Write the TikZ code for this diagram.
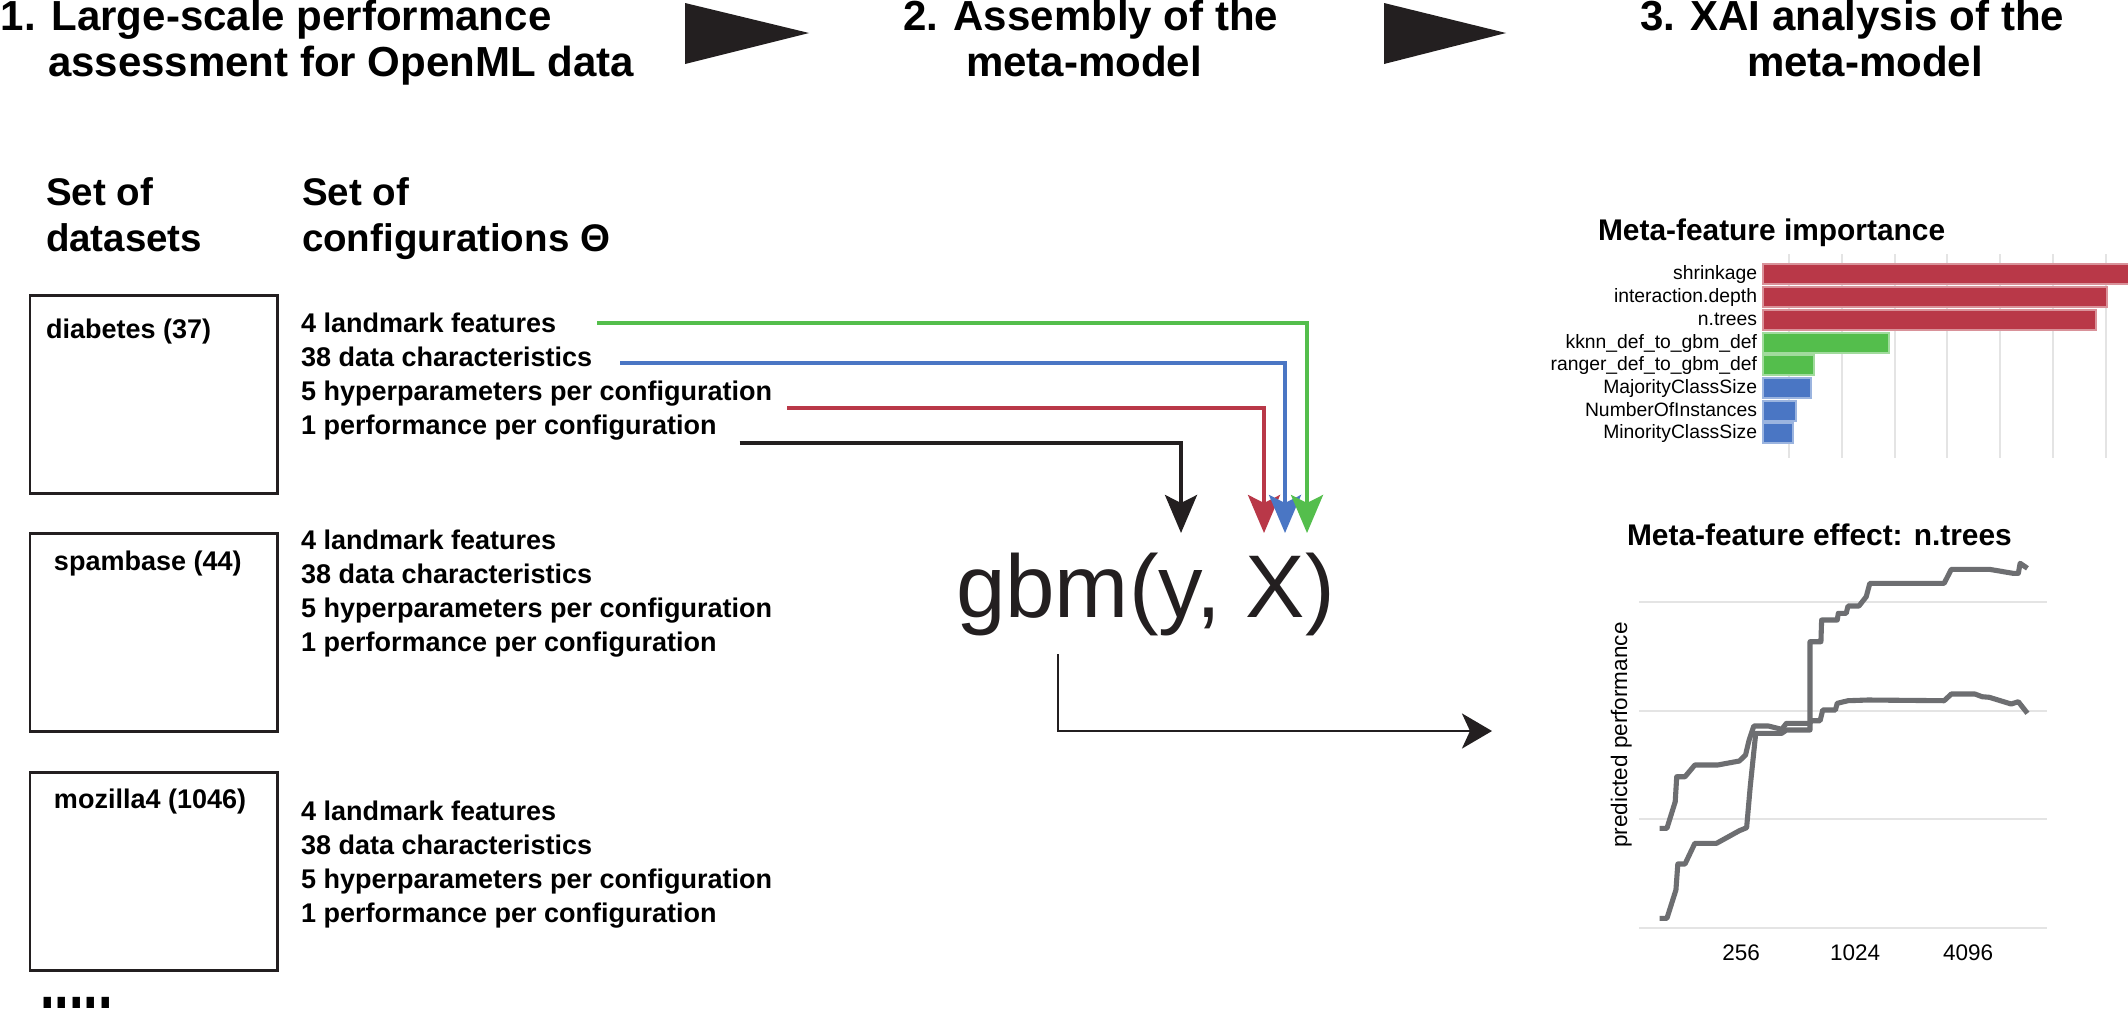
\documentclass[tikz,border=0pt]{standalone}
\usepackage{fontspec}
\setmainfont{Liberation Sans}
\usetikzlibrary{arrows.meta,calc}
\definecolor{ink}{HTML}{231F20}
\definecolor{cred}{HTML}{B93848}
\definecolor{cgreen}{HTML}{54BE4C}
\definecolor{cblue}{HTML}{4A76C4}
\definecolor{curvegray}{HTML}{6D6E71}
\definecolor{gridgray}{HTML}{E4E4E4}
\begin{document}
\begin{tikzpicture}[x=0.01cm,y=-0.01cm,
  txt/.style={inner sep=0pt, outer sep=0pt, anchor=base west, text=black},
  mtitle/.style={txt, font=\fontsize{11.95pt}{14pt}\selectfont\bfseries},
  subhead/.style={txt, font=\fontsize{10.95pt}{13pt}\selectfont\bfseries},
  item/.style={txt, font=\fontsize{7.68pt}{9pt}\selectfont\bfseries},
  dsbox/.style={draw=ink, line width=0.85pt, inner sep=0pt, outer sep=0pt, minimum width=2.47cm, minimum height=1.98cm, anchor=north west},
  conn/.style={line width=0.95pt, -{Stealth[length=0.38cm,width=0.32cm,inset=0.08cm]}},
  outconn/.style={draw=ink, line width=0.8pt, -{Stealth[length=0.30cm,width=0.35cm,inset=0.08cm]}},
  bigarrow/.style={fill=ink},
  charttitle/.style={txt, font=\fontsize{8.5pt}{10pt}\selectfont\bfseries},
  barlabel/.style={inner sep=0pt, outer sep=0pt, anchor=base east, font=\fontsize{5.5pt}{6.5pt}\selectfont},
  axlabel/.style={inner sep=0pt, outer sep=0pt, anchor=base, font=\fontsize{6.4pt}{7.5pt}\selectfont},
  gridline/.style={draw=gridgray, line width=0.45pt},
  curve/.style={draw=curvegray, line width=1.45pt, line join=round}
]
\useasboundingbox (0,0) rectangle (2128,1012);
\fill[white] (0,0) rectangle (2128,1012);

% ---- section titles ----
\node[mtitle] (t1a) at (1,31) {1. Large-scale performance};
\node[mtitle] (t1b) at (48,76) {assessment for OpenML data};
\node[mtitle] (t2a) at (903,31) {2. Assembly of the};
\node[mtitle] (t2b) at (966,76) {meta-model};
\node[mtitle] (t3a) at (1640,31) {3. XAI analysis of the};
\node[mtitle] (t3b) at (1747,76) {meta-model};

% ---- big triangles ----
\fill[bigarrow] (685,3) -- (809,33) -- (685,64) -- cycle;
\fill[bigarrow] (1384,3) -- (1506,33) -- (1384,64) -- cycle;

% ---- column headings ----
\node[subhead] (sd1) at (46,205) {Set of};
\node[subhead] (sd2) at (46,251) {datasets};
\node[subhead] (sc1) at (302,205) {Set of};
\node[subhead] (sc2) at (302,251) {configurations Θ};

% ---- dataset boxes ----
\node[dsbox] (b1) at (30,295) {};
\node[item] (l1) at (46,338) {diabetes (37)};
\node[dsbox] (b2) at (30,533) {};
\node[item] (l2) at (54,570) {spambase (44)};
\node[dsbox] (b3) at (30,772) {};
\node[item] (l3) at (54,808) {mozilla4 (1046)};

% ---- configuration items ----
\node[item] (lm1) at (301,332) {4 landmark features};
\node[item] (dc1) at (301,366) {38 data characteristics};
\node[item] (hp1) at (301,400) {5 hyperparameters per configuration};
\node[item] (pf1) at (301,434) {1 performance per configuration};

\node[item] (lm2) at (301,549) {4 landmark features};
\node[item] (dc2) at (301,583) {38 data characteristics};
\node[item] (hp2) at (301,617) {5 hyperparameters per configuration};
\node[item] (pf2) at (301,651) {1 performance per configuration};

\node[item] (lm3) at (301,820) {4 landmark features};
\node[item] (dc3) at (301,854) {38 data characteristics};
\node[item] (hp3) at (301,888) {5 hyperparameters per configuration};
\node[item] (pf3) at (301,922) {1 performance per configuration};

\node[inner sep=0pt, outer sep=0pt, anchor=base west] (dots) at (40,1008)
  {\scalebox{0.7}[1]{\fontsize{21.3pt}{24pt}\selectfont\bfseries .....}};

% ---- meta-model ----
\node[inner sep=0pt, outer sep=0pt, anchor=base west, font=\fontsize{25.3pt}{29pt}\selectfont, text=ink] (gbm) at (956,617) {gbm(y, X)};

\coordinate (tipK) at (1181,533);
\coordinate (tipR) at (1264,533);
\coordinate (tipB) at (1285,533);
\coordinate (tipG) at (1307,533);

\draw[conn, draw=ink] ([shift={(23,9)}]pf1.base east) -| (tipK);
\draw[conn, draw=cred] ([shift={(15,8)}]hp1.base east) -| (tipR);
\draw[conn, draw=cblue] ([shift={(28,-3)}]dc1.base east) -| (tipB);
\draw[conn, draw=cgreen] ([shift={(41,-9)}]lm1.base east) -| (tipG);

\coordinate (xaiIn) at (1492,731);
\draw[outconn] ([shift={(102,19)}]gbm.south west) |- (xaiIn);

% ---- importance chart ----
\node[charttitle] (imp) at (1598,240) {Meta-feature importance};
\foreach \gx in {1789,1842,1895,1947,2000,2053,2106}
  \draw[gridline] (\gx,254) -- (\gx,458);
\foreach \cy/\cx/\cc in {274/2135/cred, 297/2107/cred, 320/2096/cred, 343/1889/cgreen, 365/1814/cgreen, 388/1811/cblue, 411/1796/cblue, 433/1793/cblue}
  \filldraw[fill=\cc, draw=\cc!55!white, line width=0.35pt] (1763,\cy-10) rectangle (\cx,\cy+10);
\node[barlabel] (f1) at (1757,279) {shrinkage};
\node[barlabel] (f2) at (1757,302) {interaction.depth};
\node[barlabel] (f3) at (1757,325) {n.trees};
\node[barlabel] (f4) at (1757,348) {kknn\_def\_to\_gbm\_def};
\node[barlabel] (f5) at (1757,370) {ranger\_def\_to\_gbm\_def};
\node[barlabel] (f6) at (1757,393) {MajorityClassSize};
\node[barlabel] (f7) at (1757,416) {NumberOfInstances};
\node[barlabel] (f8) at (1757,438) {MinorityClassSize};

% ---- effect chart ----
\node[charttitle] (eff) at (1627,545) {Meta-feature effect: n.trees};
\foreach \gy in {602,711,819,928}
  \draw[gridline] (1639,\gy) -- (2047,\gy);
\node[axlabel, rotate=90] (ylab) at (1627,735) {predicted performance};
\node[axlabel] (x256) at (1741,960) {256};
\node[axlabel] (x1024) at (1855,960) {1024};
\node[axlabel] (x4096) at (1968,960) {4096};

\draw[curve] (1659.6,918.3) -- (1666.9,918.3) -- (1675.9,890) -- (1677.8,864) -- (1685.0,864)
  -- (1694.8,843.3) -- (1716.5,843.3) -- (1739.3,830.7) -- (1746.6,827.7) -- (1750.2,786.7)
  -- (1755.7,733.3) -- (1781.7,733.3) -- (1786.4,730) -- (1810.0,730) -- (1810.0,641.7)
  -- (1820.9,641.7) -- (1821.6,620) -- (1837.2,620) -- (1838.3,613.3) -- (1846.2,613.3)
  -- (1848.0,606) -- (1858.9,606) -- (1866.2,596.7) -- (1869.8,583.3) -- (1944.1,583.3)
  -- (1951.3,569.3) -- (1989.3,569.3) -- (2012.9,573.3) -- (2018.3,573.3) -- (2020.1,563.3)
  -- (2027.4,568.3);
\draw[curve] (1659.6,828.3) -- (1666.9,828.3) -- (1675.2,801.7) -- (1676.7,776.7) -- (1685.0,776.7)
  -- (1694.8,765) -- (1717.6,765) -- (1739.3,761) -- (1745.5,755) -- (1749.1,740)
  -- (1753.8,726) -- (1768.3,726) -- (1781.7,729.3) -- (1786.4,723.3) -- (1810.0,723.3)
  -- (1810.7,720.7) -- (1820.1,720.7) -- (1822.7,710) -- (1835.4,710) -- (1837.2,703.3)
  -- (1848.0,700.7) -- (1868.0,700) -- (1944.1,700.7) -- (1951.3,694) -- (1974.9,694)
  -- (1982.1,696.7) -- (1989.3,697.3) -- (2011.1,704) -- (2018.3,701.7) -- (2027.4,713.3);
\end{tikzpicture}
\end{document}
